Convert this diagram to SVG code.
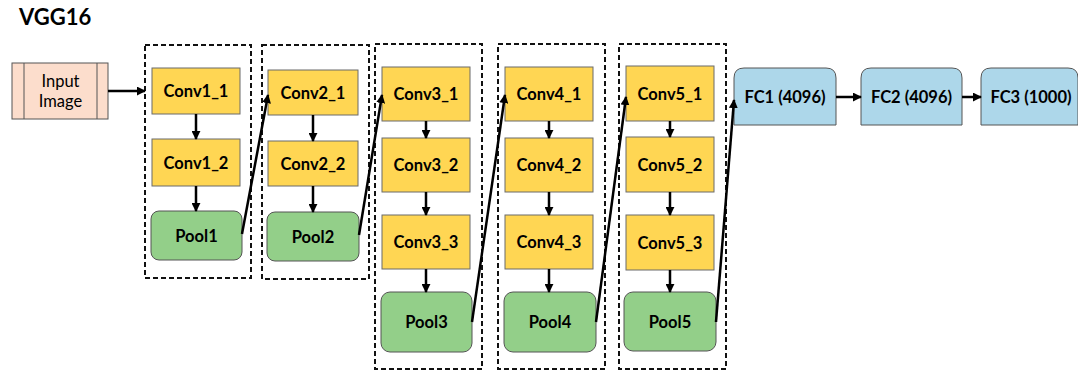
<svg xmlns="http://www.w3.org/2000/svg" width="1078" height="371" viewBox="0 0 1078 371">
<defs>
<style>
.t{font-family:Lato,"Open Sans","Liberation Sans",sans-serif;font-weight:bold;font-size:16.5px;fill:#000;text-anchor:middle;dominant-baseline:central}
.conv{fill:#FFD653;stroke:#6b6b6b;stroke-width:1}
.pool{fill:#93CF89;stroke:#555;stroke-width:1}
.fc{fill:#ADD7EA;stroke:#555;stroke-width:1}
.grp{fill:none;stroke:#111;stroke-width:2;stroke-dasharray:5,3}
.c{stroke:#000;stroke-width:2.5;fill:none;marker-end:url(#ah)}
</style>
<marker id="ah" viewBox="0 0 10 10" refX="9" refY="5" markerWidth="3.6" markerHeight="3.6" orient="auto" markerUnits="strokeWidth">
<path d="M0,0 L10,5 L0,10 z" fill="#000"/>
</marker>
</defs>
<rect width="1078" height="371" fill="#fff"/>
<text x="19" y="25" style="font-family:Lato,'Open Sans','Liberation Sans',sans-serif;font-weight:bold;font-size:22px">VGG16</text>

<g id="groups">
<rect class="grp" x="145" y="45" width="106" height="233"/>
<rect class="grp" x="262" y="45" width="107" height="234"/>
<rect class="grp" x="375" y="44" width="107" height="325"/>
<rect class="grp" x="498" y="44" width="107" height="325"/>
<rect class="grp" x="619" y="44" width="107" height="325"/>
</g>

<g id="input">
<rect x="12" y="63" width="96" height="56" fill="#FCDDCC" stroke="#555" stroke-width="1"/>
<line x1="24" y1="63" x2="24" y2="119" stroke="#555" stroke-width="1"/>
<line x1="97" y1="63" x2="97" y2="119" stroke="#555" stroke-width="1"/>
<text class="t" x="60.5" y="81" style="font-weight:normal">Input</text>
<text class="t" x="60.5" y="101" style="font-weight:normal">Image</text>
</g>

<g id="conv1_1"><rect class="conv" x="152" y="68" width="88" height="46"/><text class="t" x="196" y="91">Conv1_1</text></g>
<g id="conv1_2"><rect class="conv" x="152" y="139" width="88" height="47"/><text class="t" x="196" y="162.5">Conv1_2</text></g>
<g id="pool1"><rect class="pool" x="151" y="211" width="91" height="49" rx="8"/><text class="t" x="196.5" y="235.5">Pool1</text></g>

<g id="conv2_1"><rect class="conv" x="268" y="70" width="90" height="45"/><text class="t" x="313" y="92.5">Conv2_1</text></g>
<g id="conv2_2"><rect class="conv" x="268" y="141" width="90" height="45"/><text class="t" x="313" y="163.5">Conv2_2</text></g>
<g id="pool2"><rect class="pool" x="267" y="212" width="92" height="49" rx="8"/><text class="t" x="313" y="236.5">Pool2</text></g>

<g id="conv3_1"><rect class="conv" x="382" y="67" width="88" height="54"/><text class="t" x="426" y="94">Conv3_1</text></g>
<g id="conv3_2"><rect class="conv" x="382" y="138" width="88" height="54"/><text class="t" x="426" y="165">Conv3_2</text></g>
<g id="conv3_3"><rect class="conv" x="382" y="215" width="88" height="54"/><text class="t" x="426" y="242">Conv3_3</text></g>
<g id="pool3"><rect class="pool" x="381" y="292" width="91" height="60" rx="9"/><text class="t" x="426.5" y="322">Pool3</text></g>

<g id="conv4_1"><rect class="conv" x="505" y="67" width="88" height="54"/><text class="t" x="549" y="94">Conv4_1</text></g>
<g id="conv4_2"><rect class="conv" x="505" y="138" width="88" height="54"/><text class="t" x="549" y="165">Conv4_2</text></g>
<g id="conv4_3"><rect class="conv" x="505" y="215" width="88" height="54"/><text class="t" x="549" y="242">Conv4_3</text></g>
<g id="pool4"><rect class="pool" x="504" y="292" width="92" height="60" rx="9"/><text class="t" x="550" y="322">Pool4</text></g>

<g id="conv5_1"><rect class="conv" x="626" y="66" width="88" height="55"/><text class="t" x="670" y="93.5">Conv5_1</text></g>
<g id="conv5_2"><rect class="conv" x="626" y="137" width="88" height="55"/><text class="t" x="670" y="164.5">Conv5_2</text></g>
<g id="conv5_3"><rect class="conv" x="626" y="215" width="88" height="55"/><text class="t" x="670" y="242.5">Conv5_3</text></g>
<g id="pool5"><rect class="pool" x="624" y="292" width="92" height="59" rx="9"/><text class="t" x="670" y="321.5">Pool5</text></g>

<g id="fc1"><path class="fc" d="M734,125 V78 Q734,68 744,68 H826 Q836,68 836,78 V125 Z"/><text class="t" x="785" y="97">FC1 (4096)</text></g>
<g id="fc2"><path class="fc" d="M861,125 V78 Q861,68 871,68 H952 Q962,68 962,78 V125 Z"/><text class="t" x="911.5" y="97">FC2 (4096)</text></g>
<g id="fc3"><path class="fc" d="M981,125 V78 Q981,68 991,68 H1068 Q1078,68 1078,78 V125 Z"/><text class="t" x="1031" y="97">FC3 (1000)</text></g>

<g id="connectors">
<line class="c" x1="108" y1="91" x2="145" y2="91"/>
<line class="c" x1="196" y1="114" x2="196" y2="139"/>
<line class="c" x1="196" y1="186" x2="196" y2="211"/>
<line class="c" x1="313" y1="115" x2="313" y2="141"/>
<line class="c" x1="313" y1="186" x2="313" y2="212"/>
<line class="c" x1="426" y1="121" x2="426" y2="138"/>
<line class="c" x1="426" y1="192" x2="426" y2="215"/>
<line class="c" x1="426" y1="269" x2="426" y2="292"/>
<line class="c" x1="549" y1="121" x2="549" y2="138"/>
<line class="c" x1="549" y1="192" x2="549" y2="215"/>
<line class="c" x1="549" y1="269" x2="549" y2="292"/>
<line class="c" x1="670" y1="121" x2="670" y2="137"/>
<line class="c" x1="670" y1="192" x2="670" y2="215"/>
<line class="c" x1="670" y1="270" x2="670" y2="292"/>
<line class="c" x1="242" y1="234" x2="268" y2="95"/>
<line class="c" x1="359" y1="235" x2="382" y2="95"/>
<line class="c" x1="472" y1="322" x2="505" y2="95"/>
<line class="c" x1="596" y1="322" x2="626" y2="97"/>
<line class="c" x1="716" y1="322" x2="734" y2="100"/>
<line class="c" x1="836" y1="97" x2="861" y2="97"/>
<line class="c" x1="962" y1="97" x2="981" y2="97"/>
</g>
</svg>
